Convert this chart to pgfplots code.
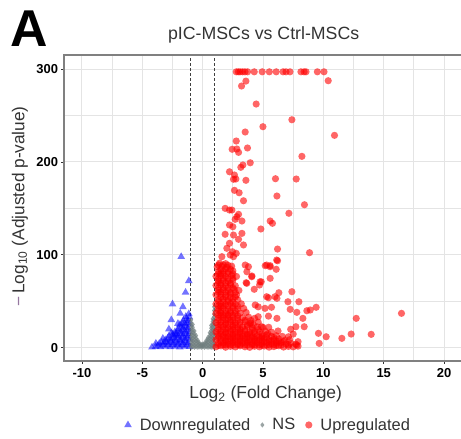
\documentclass[border=0pt]{standalone}
\usepackage{pgfplots}
\pgfplotsset{compat=1.18}
\usepackage{fontspec}
\setmainfont{Liberation Sans}
\definecolor{upred}{RGB}{255,0,0}
\definecolor{downblue}{RGB}{0,0,255}
\definecolor{nsgray}{RGB}{112,126,126}
\definecolor{gridc}{RGB}{228,228,228}
\definecolor{framec}{RGB}{128,128,128}
\definecolor{labc}{RGB}{51,51,51}
\definecolor{minusc}{RGB}{150,120,160}
\begin{document}
\begin{tikzpicture}
\useasboundingbox (-64bp,-78bp) rectangle (397bp,361bp);
\begin{axis}[
  at={(0,0)}, anchor=south west,
  scale only axis, width=397bp, height=306bp,
  xmin=-11.49, xmax=21.4, ymin=-14.3, ymax=315.1,
  xtick={-10,-5,0,5,10,15,20}, xticklabels={-10,-5,0,5,10,15,20},
  ytick={0,100,200,300}, yticklabels={0,100,200,300},
  minor xtick={-7.5,-2.5,2.5,7.5,12.5,17.5}, minor ytick={50,150,250},
  grid=both,
  major grid style={gridc, line width=1bp},
  minor grid style={gridc, line width=1bp},
  axis line style={draw=none},
  xtick pos=bottom, ytick pos=left,
  tick align=outside, major tick length=2.5bp, minor tick length=0pt,
  tick style={labc, line width=0.8bp},
  ticklabel style={font=\bfseries\fontsize{13}{13}\selectfont, text=black},
  xticklabel style={yshift=-1.5bp},
  xlabel={Log\textsubscript{2} (Fold Change)},
  ylabel={{\color{minusc}−}\hspace{3bp}Log\textsubscript{10} (Adjusted p-value)},
  xlabel style={font=\fontsize{17.5}{17.5}\selectfont, text=labc, at={(axis description cs:0.508,-0.108)}, anchor=center},
  ylabel style={font=\fontsize{17.3}{17.3}\selectfont, text=labc, at={(axis description cs:-0.111,0.505)}, anchor=center},
  title={pIC-MSCs vs Ctrl-MSCs},
  title style={font=\fontsize{17.8}{17.8}\selectfont, text=labc, at={(axis description cs:0.503,1.046)}, anchor=center},
  legend columns=3,
  legend cell align=left,
  legend style={at={(axis description cs:0.514,-0.209)}, anchor=center, draw=none, fill=none,
    font=\fontsize{16.5}{16.5}\selectfont, text=labc,
    /tikz/every odd column/.append style={column sep=6bp},
    /tikz/every even column/.append style={column sep=8bp}},
]
% Downregulated
\addplot[only marks, mark=triangle*, mark size=4.4bp,
  mark options={draw opacity=0, fill=downblue, fill opacity=0.55}] coordinates {
(-1.1,1)(-1.5,1.5)(-1.9,0.7)(-2.3,1.3)(-2.7,0.8)(-3.1,1.4)(-3.5,0.9)(-3.9,1.2)(-4.2,0.6)
(-1.2,5)(-1.6,5.5)(-2.0,4.6)(-2.4,5.3)(-2.8,4.8)(-3.2,5.2)(-3.6,4.5)
(-1.1,9)(-1.5,9.5)(-1.9,8.6)(-2.3,9.3)(-2.7,8.8)(-3.1,8.4)
(-1.2,13)(-1.6,13.5)(-2.0,12.6)(-2.4,13.3)(-2.8,12.5)
(-1.1,17)(-1.5,17.5)(-1.9,16.6)(-2.3,17.2)(-2.6,16)
(-1.2,21)(-1.6,21.5)(-2.0,20.6)
(-1.1,25)(-1.5,25.5)(-1.9,24.6)
(-1.2,29)(-1.6,29.5)
(-1.1,33)(-1.4,33.5)
(-1.15,36.5)
(-1.3,3)(-1.7,3)(-2.1,3)(-2.5,3)(-2.9,3)(-3.3,3)(-3.7,2.5)
(-1.4,7)(-1.8,7)(-2.2,7)(-2.6,7)(-3.0,6.5)(-3.4,6)
(-1.3,11)(-1.7,11)(-2.1,11)(-2.5,10.5)(-2.9,10)
(-1.35,15)(-1.75,15)(-2.15,15)(-2.5,14.5)
(-1.3,19)(-1.7,19)(-2.1,18.5)
(-1.35,23)(-1.75,23)
(-1.3,27)(-1.7,26.5)
(-1.35,31)
(-1.78,98)(-1.15,72)(-1.42,59.6)(-2.5,47)(-1.64,44)(-1.86,37)(-2.05,26)(-2.24,13.7)
(-3.88,4.7)(-2.8,20)(-3.3,10)(-2.6,30)
};
\addlegendentry{Downregulated}
% NS
\addplot[only marks, mark=diamond*, mark size=2.7bp,
  mark options={draw opacity=0, fill=nsgray, fill opacity=0.7}] coordinates {
(-0.95,0.5)(-0.95,3)(-0.95,6)(-0.95,9)(-0.95,12)(-0.95,15)(-0.95,18)(-0.95,21)(-0.95,24)(-0.95,27)(-0.95,30)
(-0.82,1)(-0.82,4)(-0.82,7)(-0.82,10)(-0.82,13)(-0.82,16)(-0.82,19)(-0.82,22)(-0.82,25)
(-0.68,0.5)(-0.68,3)(-0.68,6)(-0.68,9)(-0.68,12)(-0.68,15)(-0.68,18)
(-0.54,1)(-0.54,4)(-0.54,7)(-0.54,10)(-0.54,13)
(-0.4,0.5)(-0.4,3)(-0.4,6)(-0.4,8)
(-0.26,1)(-0.26,3.5)(-0.26,5)
(-0.12,0.5)(-0.12,2)(-0.12,3.5)
(0.02,1)(0.02,2.5)(0.02,4)
(0.16,0.5)(0.16,3)(0.16,5)
(0.3,1)(0.3,4)(0.3,6)(0.3,8)
(0.44,0.5)(0.44,3)(0.44,6)(0.44,9)(0.44,11)
(0.58,1)(0.58,4)(0.58,7)(0.58,10)(0.58,13)(0.58,16)
(0.7,0.5)(0.7,3)(0.7,6)(0.7,9)(0.7,12)(0.7,15)(0.7,18)(0.7,21)(0.7,24)
(0.82,1)(0.82,4)(0.82,7)(0.82,10)(0.82,13)(0.82,16)(0.82,19)(0.82,22)(0.82,25)(0.82,28)(0.82,31)
(0.94,0.5)(0.94,3)(0.94,6)(0.94,9)(0.94,12)(0.94,15)(0.94,18)(0.94,21)(0.94,24)(0.94,27)(0.94,30)(0.94,33)(0.94,36)(0.94,40)(0.94,44)
};
\addlegendentry{NS}
% Upregulated
\addplot[only marks, mark=*, mark size=3.6bp,
  mark options={draw opacity=0, fill=upred, fill opacity=0.6}] coordinates {
(1.1,1)(1.5,2)(1.9,0.5)(2.3,1.5)(2.7,0.8)(3.1,2)(3.5,1)(3.9,0.4)(4.3,1.6)(4.7,0.9)(5.1,1.8)(5.5,0.6)(5.9,1.2)(6.3,2.1)(6.7,0.7)(7.1,1.4)(7.5,0.9)(7.9,1.7)
(1.3,4.5)(1.7,5)(2.1,4)(2.5,5.3)(2.9,4.2)(3.3,4.8)(3.7,5.5)(4.1,4.1)(4.5,5)(4.9,4.4)(5.3,5.6)(5.7,4.3)(6.1,4.9)(6.5,5.4)(6.9,4)(7.3,4.7)(7.7,3.8)
(1.1,8.5)(1.5,9)(1.9,8)(2.3,9.3)(2.7,8.2)(3.1,8.8)(3.5,9.5)(3.9,8.1)(4.3,9)(4.7,8.4)(5.1,9.6)(5.5,8.3)(5.9,8.9)(6.3,9.4)(6.8,8)(7.2,8.6)
(1.3,12.5)(1.7,13)(2.1,12)(2.5,13.3)(2.9,12.2)(3.3,12.8)(3.7,13.5)(4.1,12.1)(4.5,13)(4.9,12.4)(5.3,13.6)(5.7,12.3)(6.1,12.9)(6.6,12.2)
(1.1,17)(1.5,17.5)(1.9,16.5)(2.3,17.8)(2.7,16.7)(3.1,17.3)(3.5,18)(3.9,16.6)(4.3,17.5)(4.7,16.9)(5.2,17.6)(5.7,16.8)
(1.3,22)(1.7,22.5)(2.1,21.5)(2.5,22.8)(2.9,21.7)(3.3,22.3)(3.7,23)(4.1,21.6)(4.5,22.5)(5.0,21.9)
(1.1,27)(1.5,27.5)(1.9,26.5)(2.3,27.8)(2.7,26.7)(3.1,27.3)(3.5,28)(4.0,26.6)(4.6,27.5)
(1.3,32)(1.7,32.5)(2.1,31.5)(2.5,32.8)(2.9,31.7)(3.3,32.3)(3.8,33)(4.3,31.6)
(1.1,37)(1.5,37.5)(1.9,36.5)(2.3,37.8)(2.7,36.7)(3.1,37.3)(3.6,38)
(1.3,42)(1.7,42.5)(2.1,41.5)(2.5,42.8)(2.9,41.7)(3.4,42.3)
(1.1,47)(1.5,47.5)(1.9,46.5)(2.3,47.8)(2.7,46.7)(3.2,47.3)
(1.3,52)(1.7,52.5)(2.1,51.5)(2.5,52.8)(2.9,51.7)
(1.1,57)(1.5,57.5)(1.9,56.5)(2.3,57.8)(2.8,56.7)
(1.3,62)(1.7,62.5)(2.1,61.5)(2.6,62.8)(3.0,61.7)
(1.1,67)(1.5,67.5)(1.9,66.5)(2.3,67.8)(2.7,66.7)
(1.3,72)(1.7,72.5)(2.1,71.5)(2.5,72.8)
(1.1,77)(1.5,77.5)(1.9,76.5)(2.4,77.8)(2.8,76.7)
(1.3,82)(1.7,82.5)(2.1,81.5)(2.5,82.8)
(1.2,87)(1.6,87.5)(2.0,86.5)(2.4,87.8)
(1.4,91)(1.9,90.5)
(1.3,2.5)(1.9,3)(2.5,2.8)(3.1,3.2)(3.7,2.9)(4.3,3.3)(4.9,2.7)(5.5,3.1)(6.1,2.6)(1.5,6.5)(2.1,7)(2.7,6.6)(3.3,7.1)(3.9,6.4)(4.5,7)(5.1,6.6)(5.7,7.2)(6.3,6.7)
(1.3,10.5)(1.9,11)(2.5,10.6)(3.1,11.2)(3.7,10.8)(4.3,10.9)(4.9,10.5)(1.5,15)(2.1,15.2)(2.7,14.8)(3.3,15.4)(3.9,14.9)(1.3,19.5)(1.9,20)(2.5,19.6)(3.1,19.8)(1.5,24.5)(2.1,25)(2.7,24.4)
(1.3,29.5)(1.9,30)(2.5,29.6)(1.5,34.5)(2.1,35)(1.3,40)(1.9,39.5)(1.5,44.5)(1.3,50)(1.5,60)(1.3,70)(1.5,80)
(1.7,3)(2.3,3.4)(2.9,3)(3.5,3.2)(4.1,2.8)(4.7,3.1)(5.3,2.9)(5.9,3.3)(6.5,2.8)(7.1,3.2)
(1.9,7)(2.5,7.2)(3.1,6.8)(3.7,7.1)(4.3,6.9)(4.9,7.3)(5.5,6.8)(6.1,7.1)(6.7,6.6)
(1.7,11)(2.3,11.2)(2.9,10.8)(3.5,11.1)(4.1,10.7)(4.7,11.2)(5.3,10.9)(5.9,11.1)
(1.3,15)(1.9,15.3)(2.5,14.9)(3.1,15.1)(3.7,14.8)(4.3,15.2)(4.9,14.9)(5.4,15.1)
(1.7,19.5)(2.3,19.8)(2.9,19.4)(3.5,19.7)(4.1,19.3)(4.6,19.6)
(1.3,24.5)(1.9,24.8)(2.5,24.3)(3.1,24.7)(3.7,24.4)(4.2,24.6)
(1.7,29.5)(2.3,29.8)(2.9,29.4)(3.5,29.7)(4.0,29.3)
(1.3,35)(1.7,35.2)(2.1,34.8)(2.5,35.1)(2.9,34.7)
(1.5,39.5)(2.3,39.7)(2.7,39.4)
(1.3,45)(1.7,45.2)(2.1,44.8)(2.5,45.1)(2.9,44.7)
(1.7,49.5)(2.1,49.7)(2.5,49.4)
(1.5,54.5)(1.9,54.7)(2.3,54.4)(2.7,54.6)
(1.3,59.5)(1.9,59.7)(2.3,59.4)(2.7,59.6)
(1.3,64.5)(1.7,64.7)(2.1,64.4)(2.5,64.6)
(1.5,69.5)(1.9,69.7)(2.3,69.4)
(1.3,74.5)(1.7,74.7)(2.1,74.4)(2.5,74.6)
(1.3,79.5)(1.7,79.7)(2.1,79.4)(2.5,79.6)
(1.5,84.5)(1.9,84.7)(2.3,84.4)
(1.3,89)(1.7,89.2)(2.1,88.8)
(2.78,297)(2.95,297)(3.1,297)(3.3,297)(3.5,297)(3.72,297)(4.27,297)(4.93,297)(5.52,297)(6.09,297)
(6.66,297)(6.9,297)(7.23,297)(8.14,297)(8.4,297)(8.56,297)(9.5,297)(10.05,297)
(10.40,287.4)(3.58,287)(3.22,281.7)(4.43,262.3)(7.39,245.4)(4.99,237.9)(3.52,232.2)(10.92,228.6)
(2.78,222.5)(2.44,213.6)(2.83,213.9)(2.97,210.3)(3.71,215)(8.22,206)(3.94,199.1)(3.33,196.7)(3.16,194.2)
(2.22,189.4)(2.63,185.9)(2.55,181.3)(2.75,181.6)(3.58,180.2)(6.03,181.9)(7.75,181.6)(2.63,169.4)(3.02,166.8)
(6.15,163.3)(3.38,158.2)
(8.43,153.9)(1.86,150)(2.22,148.2)(2.42,148.2)(7.14,144.7)(2.97,143.6)(2.83,141)(2.69,138.2)(3.25,136.4)
(5.59,136.4)(5.78,133.9)(2.22,132.1)(2.50,130.2)(4.82,127.8)(1.86,122.1)(2.55,121.3)(3.25,123.1)(2.97,116.7)
(2.22,112.4)(3.38,110.6)(2.0,107)(2.47,103.3)(2.78,101.6)(2.28,99.8)(6.20,106.2)(8.85,102.3)(1.59,98)(2.55,98)
(6.20,93.6)(3.79,87.2)(5.18,88.3)(5.59,88.3)(6.09,84.4)(3.66,81.8)(4.08,77.2)(5.59,74.7)(3.60,70)(4.85,71)
(4.71,67.5)(4.27,62.9)(6.31,59.2)(7.39,60.3)(6.15,53.2)(5.45,53.8)(7.06,49.5)(7.97,49.5)(9.40,43.5)(8.63,39.8)
(8.91,40.6)(7.25,41.3)(7.80,38.1)(12.72,31.6)(16.47,37)(8.30,31.6)(8.41,22.6)(7.72,22.6)(9.59,15.5)(10.23,11.8)
(11.53,10.1)(12.30,14.7)(13.96,14.4)(9.65,4.7)
(4.35,46)(4.6,44)(5.16,42.4)(5.7,43.5)(5.45,34)(6.15,31.6)(4.6,33.4)(3.92,26)(4.88,22.6)(5.47,22)(6.24,18)
(7.29,19.8)(7.5,14.7)(7.1,11.8)(7.9,6.5)(7.8,3)(3.52,89)(4.06,76.4)(3.65,69.3)(4.75,71)(5.3,89)(5.58,87.2)
(6.13,94.4)(5.3,54.9)(5.99,54.9)
};
\addlegendentry{Upregulated}
\addplot[forget plot, black!75, line width=0.6bp, dash pattern=on 3bp off 2bp] coordinates {(-1,-14.3) (-1,315.1)};
\addplot[forget plot, black!75, line width=0.6bp, dash pattern=on 3bp off 2bp] coordinates {(1,-14.3) (1,315.1)};
\end{axis}
\draw[framec, line width=1.3bp] (397bp,306bp) -- (0,306bp) -- (0,0) -- (397bp,0);
\node[anchor=base west, font=\bfseries\fontsize{52}{52}\selectfont, inner sep=0pt] at (-54bp,314bp) {A};
\end{tikzpicture}
\end{document}
